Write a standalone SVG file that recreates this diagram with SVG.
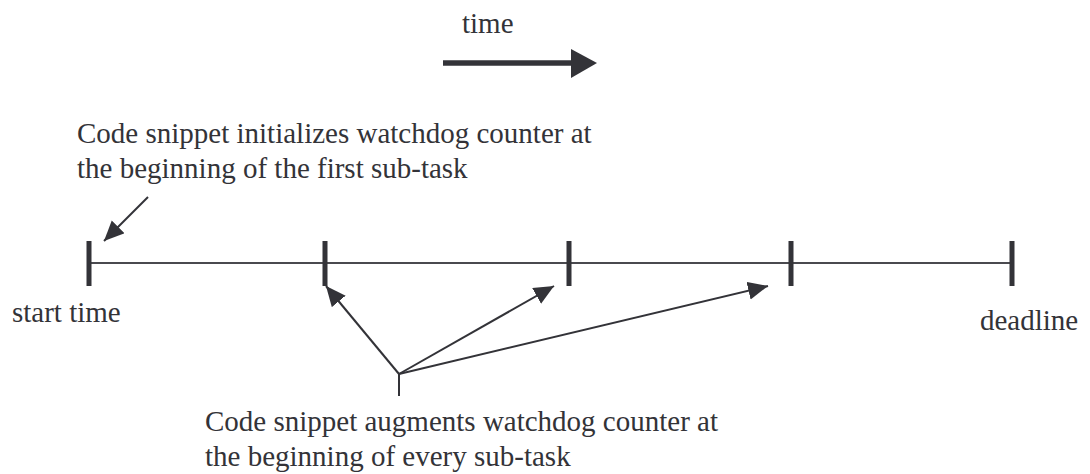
<svg xmlns="http://www.w3.org/2000/svg" width="1090" height="474" viewBox="0 0 1090 474">
  <style>
    .lbl { font-family: "Liberation Serif", "Times New Roman", serif; font-size: 29px; fill: #333338; }
    .tick { fill: #333338; }
    .axis { stroke: #4a4a4f; stroke-width: 2; fill: none; }
    .ptr { stroke: #333338; stroke-width: 2; fill: none; marker-end: url(#head); }
  </style>
  <defs>
    <marker id="head" markerUnits="userSpaceOnUse" markerWidth="22" markerHeight="20" refX="20" refY="9" orient="auto">
      <path d="M0,0 L20,9 L0,18 z" fill="#333338"/>
    </marker>
  </defs>

  <rect width="1090" height="474" fill="#ffffff"/>

  <!-- direction of time -->
  <g id="time-arrow">
    <text class="lbl" x="462" y="33">time</text>
    <line x1="443" y1="63" x2="573" y2="63" stroke="#333338" stroke-width="5.5"/>
    <path d="M571,49 L597,63 L571,78 z" fill="#333338"/>
  </g>

  <!-- timeline axis -->
  <g id="timeline">
    <line class="axis" x1="89" y1="263" x2="1012" y2="263"/>
  </g>

  <!-- sub-task boundaries -->
  <g id="tick-start"><rect class="tick" x="86.5" y="241" width="5" height="45"/></g>
  <g id="tick-1"><rect class="tick" x="322.5" y="241" width="5" height="45"/></g>
  <g id="tick-2"><rect class="tick" x="566.5" y="241" width="5" height="45"/></g>
  <g id="tick-3"><rect class="tick" x="788.5" y="241" width="5" height="45"/></g>
  <g id="tick-deadline"><rect class="tick" x="1009.5" y="241" width="5" height="45"/></g>

  <g id="label-start"><text class="lbl" x="12" y="322">start time</text></g>
  <g id="label-deadline"><text class="lbl" x="980" y="330">deadline</text></g>

  <g id="note-init">
    <text class="lbl" x="77" y="143">Code snippet initializes watchdog counter at</text>
    <text class="lbl" x="77" y="178">the beginning of the first sub-task</text>
  </g>

  <g id="note-augment">
    <text class="lbl" x="205" y="431">Code snippet augments watchdog counter at</text>
    <text class="lbl" x="205" y="466">the beginning of every sub-task</text>
  </g>

  <!-- pointers -->
  <g id="connectors">
    <line class="ptr" x1="148" y1="197" x2="104" y2="241"/>
    <line x1="399" y1="374" x2="399" y2="396" stroke="#333338" stroke-width="2"/>
    <line class="ptr" x1="399" y1="374" x2="326" y2="286"/>
    <line class="ptr" x1="399" y1="374" x2="554" y2="286"/>
    <line class="ptr" x1="399" y1="374" x2="768" y2="286"/>
  </g>
</svg>
